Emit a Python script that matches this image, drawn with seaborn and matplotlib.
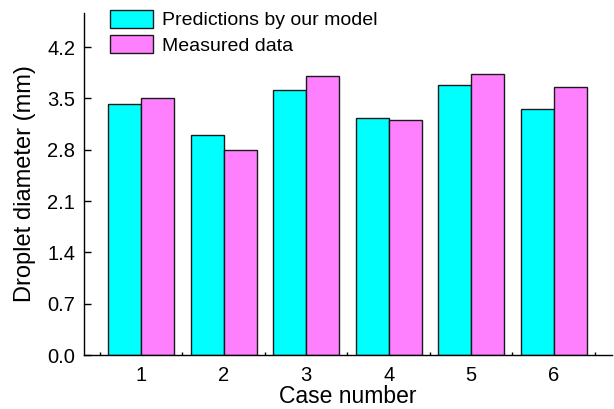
import numpy as np
import pandas as pd
import matplotlib.pyplot as plt
import seaborn as sns

# data
cases = ['1', '2', '3', '4', '5', '6']
predicted = [3.42, 3.00, 3.62, 3.24, 3.69, 3.36]
measured = [3.50, 2.80, 3.80, 3.21, 3.84, 3.66]
series = ['Predictions by our model', 'Measured data']
y_ticks = [0.0, 0.7, 1.4, 2.1, 2.8, 3.5, 4.2]

df = pd.DataFrame({
    'Case number': cases * 2,
    'Droplet diameter (mm)': predicted + measured,
    'Series': [series[0]] * len(cases) + [series[1]] * len(cases),
})

sns.set_style('ticks')
plt.rcParams['font.family'] = ['Liberation Sans', 'DejaVu Sans']
plt.rcParams['text.color'] = 'black'
plt.rcParams['axes.labelcolor'] = 'black'
plt.rcParams['xtick.color'] = 'black'
plt.rcParams['ytick.color'] = 'black'

fig = plt.figure(figsize=(6.14, 4.09), dpi=100)
ax = fig.add_axes([0.136, 0.132, 0.861, 0.837])

sns.barplot(data=df, x='Case number', y='Droplet diameter (mm)', hue='Series',
            palette=['#00FFFF', '#FF80FF'], saturation=1, edgecolor='#1a1a1a',
            linewidth=1.0, width=0.8, ax=ax)

ax.set_ylim(0, 4.67)
ax.set_xlim(-0.70, 5.71)
ax.set_yticks(y_ticks)
ax.set_yticklabels([f'{v:.1f}' for v in y_ticks])
ax.set_xticks(range(len(cases)))
ax.set_xticks(np.arange(-0.5, len(cases)), minor=True)

ax.tick_params(axis='y', direction='in', length=5, width=1, labelsize=14.5, pad=6)
ax.tick_params(axis='x', which='major', length=0, labelsize=14.5, pad=8)
ax.tick_params(axis='x', which='minor', direction='in', length=2.5, width=1)

ax.set_xlabel('Case number', fontsize=16.5, labelpad=0)
ax.set_ylabel('Droplet diameter (mm)', fontsize=17, labelpad=8)

sns.despine(ax=ax)
for s in ['left', 'bottom']:
    ax.spines[s].set_linewidth(1.0)
    ax.spines[s].set_color('black')

ax.legend(loc='upper left', bbox_to_anchor=(0.179, 0.976), bbox_transform=fig.transFigure,
          frameon=False, fontsize=14, handlelength=2.2, handleheight=1.05,
          handletextpad=0.5, labelspacing=0.3, borderpad=0, borderaxespad=0)

fig.savefig('out.png', dpi=100)
